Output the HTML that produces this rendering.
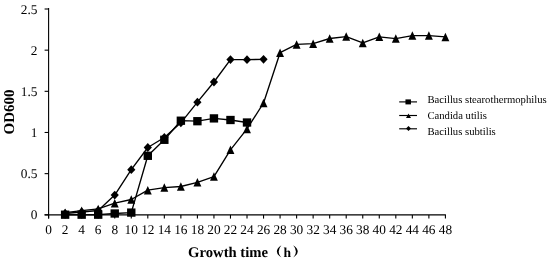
<!DOCTYPE html>
<html><head><meta charset="utf-8"><style>
html,body{margin:0;padding:0;background:#fff;}
body{width:550px;height:261px;overflow:hidden;}
svg{display:block;will-change:transform;}
</style></head><body>
<svg text-rendering="geometricPrecision" width="550" height="261" viewBox="0 0 550 261">
<rect width="550" height="261" fill="#fff"/>
<g stroke="#000" stroke-width="1.1" fill="none">
<path d="M48.60 8.0V218.6"/>
<path d="M44.6 214.9H445.92"/>
<path d="M44.6 9.00H48.60"/>
<path d="M44.6 50.16H48.60"/>
<path d="M44.6 91.32H48.60"/>
<path d="M44.6 132.48H48.60"/>
<path d="M44.6 173.64H48.60"/>
<path d="M44.6 214.80H48.60"/>
<path d="M48.60 214.9V218.6"/>
<path d="M65.13 214.9V218.6"/>
<path d="M81.67 214.9V218.6"/>
<path d="M98.20 214.9V218.6"/>
<path d="M114.74 214.9V218.6"/>
<path d="M131.27 214.9V218.6"/>
<path d="M147.80 214.9V218.6"/>
<path d="M164.34 214.9V218.6"/>
<path d="M180.87 214.9V218.6"/>
<path d="M197.41 214.9V218.6"/>
<path d="M213.94 214.9V218.6"/>
<path d="M230.47 214.9V218.6"/>
<path d="M247.01 214.9V218.6"/>
<path d="M263.54 214.9V218.6"/>
<path d="M280.08 214.9V218.6"/>
<path d="M296.61 214.9V218.6"/>
<path d="M313.14 214.9V218.6"/>
<path d="M329.68 214.9V218.6"/>
<path d="M346.21 214.9V218.6"/>
<path d="M362.75 214.9V218.6"/>
<path d="M379.28 214.9V218.6"/>
<path d="M395.81 214.9V218.6"/>
<path d="M412.35 214.9V218.6"/>
<path d="M428.88 214.9V218.6"/>
<path d="M445.42 214.9V218.6"/>
</g>
<g font-family="Liberation Serif" font-size="13.33" fill="#000">
<text x="37.4" y="13.60" text-anchor="end">2.5</text>
<text x="37.4" y="54.76" text-anchor="end">2</text>
<text x="37.4" y="95.92" text-anchor="end">1.5</text>
<text x="37.4" y="137.08" text-anchor="end">1</text>
<text x="37.4" y="178.24" text-anchor="end">0.5</text>
<text x="37.4" y="219.40" text-anchor="end">0</text>
<text x="48.60" y="234.3" text-anchor="middle">0</text>
<text x="65.13" y="234.3" text-anchor="middle">2</text>
<text x="81.67" y="234.3" text-anchor="middle">4</text>
<text x="98.20" y="234.3" text-anchor="middle">6</text>
<text x="114.74" y="234.3" text-anchor="middle">8</text>
<text x="131.27" y="234.3" text-anchor="middle">10</text>
<text x="147.80" y="234.3" text-anchor="middle">12</text>
<text x="164.34" y="234.3" text-anchor="middle">14</text>
<text x="180.87" y="234.3" text-anchor="middle">16</text>
<text x="197.41" y="234.3" text-anchor="middle">18</text>
<text x="213.94" y="234.3" text-anchor="middle">20</text>
<text x="230.47" y="234.3" text-anchor="middle">22</text>
<text x="247.01" y="234.3" text-anchor="middle">24</text>
<text x="263.54" y="234.3" text-anchor="middle">26</text>
<text x="280.08" y="234.3" text-anchor="middle">28</text>
<text x="296.61" y="234.3" text-anchor="middle">30</text>
<text x="313.14" y="234.3" text-anchor="middle">32</text>
<text x="329.68" y="234.3" text-anchor="middle">34</text>
<text x="346.21" y="234.3" text-anchor="middle">36</text>
<text x="362.75" y="234.3" text-anchor="middle">38</text>
<text x="379.28" y="234.3" text-anchor="middle">40</text>
<text x="395.81" y="234.3" text-anchor="middle">42</text>
<text x="412.35" y="234.3" text-anchor="middle">44</text>
<text x="428.88" y="234.3" text-anchor="middle">46</text>
<text x="445.42" y="234.3" text-anchor="middle">48</text>
</g>
<g font-family="Liberation Serif" font-weight="bold" font-size="14.67" fill="#000">
<text x="188.1" y="256.9">Growth time</text>
<text x="283.5" y="256.8" font-size="13.6">h</text>
<text transform="translate(13.7,111.9) rotate(-90)" text-anchor="middle" font-size="15">OD600</text>
</g>
<path d="M281.4 245.2Q272.3 251.4 281.4 257.6Q276.0 251.4 281.4 245.2Z" fill="#000"/>
<path d="M293.2 245.2Q302.3 251.4 293.2 257.6Q298.6 251.4 293.2 245.2Z" fill="#000"/>
<polyline points="65.13,214.70 81.67,214.70 98.20,214.70 114.74,213.50 131.27,212.60 147.80,155.80 164.34,139.80 180.87,120.70 197.41,121.20 213.94,118.40 230.47,120.00 247.01,122.50" fill="none" stroke="#000" stroke-width="1.35" stroke-linejoin="round"/>
<polyline points="65.13,212.70 81.67,210.70 98.20,208.90 114.74,203.20 131.27,199.50 147.80,190.20 164.34,187.55 180.87,186.50 197.41,182.30 213.94,176.60 230.47,149.80 247.01,128.90 263.54,103.00 280.08,52.70 296.61,44.40 313.14,43.70 329.68,38.50 346.21,36.60 362.75,42.90 379.28,36.80 395.81,38.60 412.35,35.60 428.88,35.60 445.42,36.90" fill="none" stroke="#000" stroke-width="1.35" stroke-linejoin="round"/>
<polyline points="65.13,213.50 81.67,212.00 98.20,210.50 114.74,195.10 131.27,169.70 147.80,147.50 164.34,137.50 180.87,122.80 197.41,102.20 213.94,82.00 230.47,59.60 247.01,59.70 263.54,59.30" fill="none" stroke="#000" stroke-width="1.35" stroke-linejoin="round"/>
<g fill="#000">
<path d="M65.13 209.10L69.23 213.50L65.13 217.90L61.03 213.50Z"/>
<path d="M81.67 207.60L85.77 212.00L81.67 216.40L77.57 212.00Z"/>
<path d="M98.20 206.10L102.30 210.50L98.20 214.90L94.10 210.50Z"/>
<path d="M114.74 190.70L118.84 195.10L114.74 199.50L110.64 195.10Z"/>
<path d="M131.27 165.30L135.37 169.70L131.27 174.10L127.17 169.70Z"/>
<path d="M147.80 143.10L151.90 147.50L147.80 151.90L143.70 147.50Z"/>
<path d="M164.34 133.10L168.44 137.50L164.34 141.90L160.24 137.50Z"/>
<path d="M180.87 118.40L184.97 122.80L180.87 127.20L176.77 122.80Z"/>
<path d="M197.41 97.80L201.51 102.20L197.41 106.60L193.31 102.20Z"/>
<path d="M213.94 77.60L218.04 82.00L213.94 86.40L209.84 82.00Z"/>
<path d="M230.47 55.20L234.57 59.60L230.47 64.00L226.37 59.60Z"/>
<path d="M247.01 55.30L251.11 59.70L247.01 64.10L242.91 59.70Z"/>
<path d="M263.54 54.90L267.64 59.30L263.54 63.70L259.44 59.30Z"/>
<path d="M65.13 208.45L69.08 216.95L61.18 216.95Z"/>
<path d="M81.67 206.45L85.62 214.95L77.72 214.95Z"/>
<path d="M98.20 204.65L102.15 213.15L94.25 213.15Z"/>
<path d="M114.74 198.95L118.69 207.45L110.79 207.45Z"/>
<path d="M131.27 195.25L135.22 203.75L127.32 203.75Z"/>
<path d="M147.80 185.95L151.75 194.45L143.85 194.45Z"/>
<path d="M164.34 183.30L168.29 191.80L160.39 191.80Z"/>
<path d="M180.87 182.25L184.82 190.75L176.92 190.75Z"/>
<path d="M197.41 178.05L201.36 186.55L193.46 186.55Z"/>
<path d="M213.94 172.35L217.89 180.85L209.99 180.85Z"/>
<path d="M230.47 145.55L234.42 154.05L226.52 154.05Z"/>
<path d="M247.01 124.65L250.96 133.15L243.06 133.15Z"/>
<path d="M263.54 98.75L267.49 107.25L259.59 107.25Z"/>
<path d="M280.08 48.45L284.03 56.95L276.13 56.95Z"/>
<path d="M296.61 40.15L300.56 48.65L292.66 48.65Z"/>
<path d="M313.14 39.45L317.09 47.95L309.19 47.95Z"/>
<path d="M329.68 34.25L333.63 42.75L325.73 42.75Z"/>
<path d="M346.21 32.35L350.16 40.85L342.26 40.85Z"/>
<path d="M362.75 38.65L366.70 47.15L358.80 47.15Z"/>
<path d="M379.28 32.55L383.23 41.05L375.33 41.05Z"/>
<path d="M395.81 34.35L399.76 42.85L391.86 42.85Z"/>
<path d="M412.35 31.35L416.30 39.85L408.40 39.85Z"/>
<path d="M428.88 31.35L432.83 39.85L424.93 39.85Z"/>
<path d="M445.42 32.65L449.37 41.15L441.47 41.15Z"/>
<rect x="60.93" y="210.55" width="8.40" height="8.30"/>
<rect x="77.47" y="210.55" width="8.40" height="8.30"/>
<rect x="94.00" y="210.55" width="8.40" height="8.30"/>
<rect x="110.54" y="209.35" width="8.40" height="8.30"/>
<rect x="127.07" y="208.45" width="8.40" height="8.30"/>
<rect x="143.60" y="151.65" width="8.40" height="8.30"/>
<rect x="160.14" y="135.65" width="8.40" height="8.30"/>
<rect x="176.67" y="116.55" width="8.40" height="8.30"/>
<rect x="193.21" y="117.05" width="8.40" height="8.30"/>
<rect x="209.74" y="114.25" width="8.40" height="8.30"/>
<rect x="226.27" y="115.85" width="8.40" height="8.30"/>
<rect x="242.81" y="118.35" width="8.40" height="8.30"/>
</g>
<g stroke="#000" stroke-width="1.15">
<path d="M399.2 101.90H417"/>
<path d="M399.2 115.50H417"/>
<path d="M399.2 128.80H417"/>
</g>
<g fill="#000">
<rect x="405.45" y="99.40" width="5.50" height="5.00"/>
<path d="M408.50 113.60L411.00 118.00L406.00 118.00Z"/>
<path d="M408.50 126.10L411.00 128.60L408.50 131.10L406.00 128.60Z"/>
</g>
<g font-family="Liberation Serif" font-size="10.67" fill="#000">
<text x="427.4" y="102.60">Bacillus stearothermophilus</text>
<text x="427.4" y="118.80">Candida utilis</text>
<text x="427.4" y="134.60">Bacillus subtilis</text>
</g>
</svg>
</body></html>
